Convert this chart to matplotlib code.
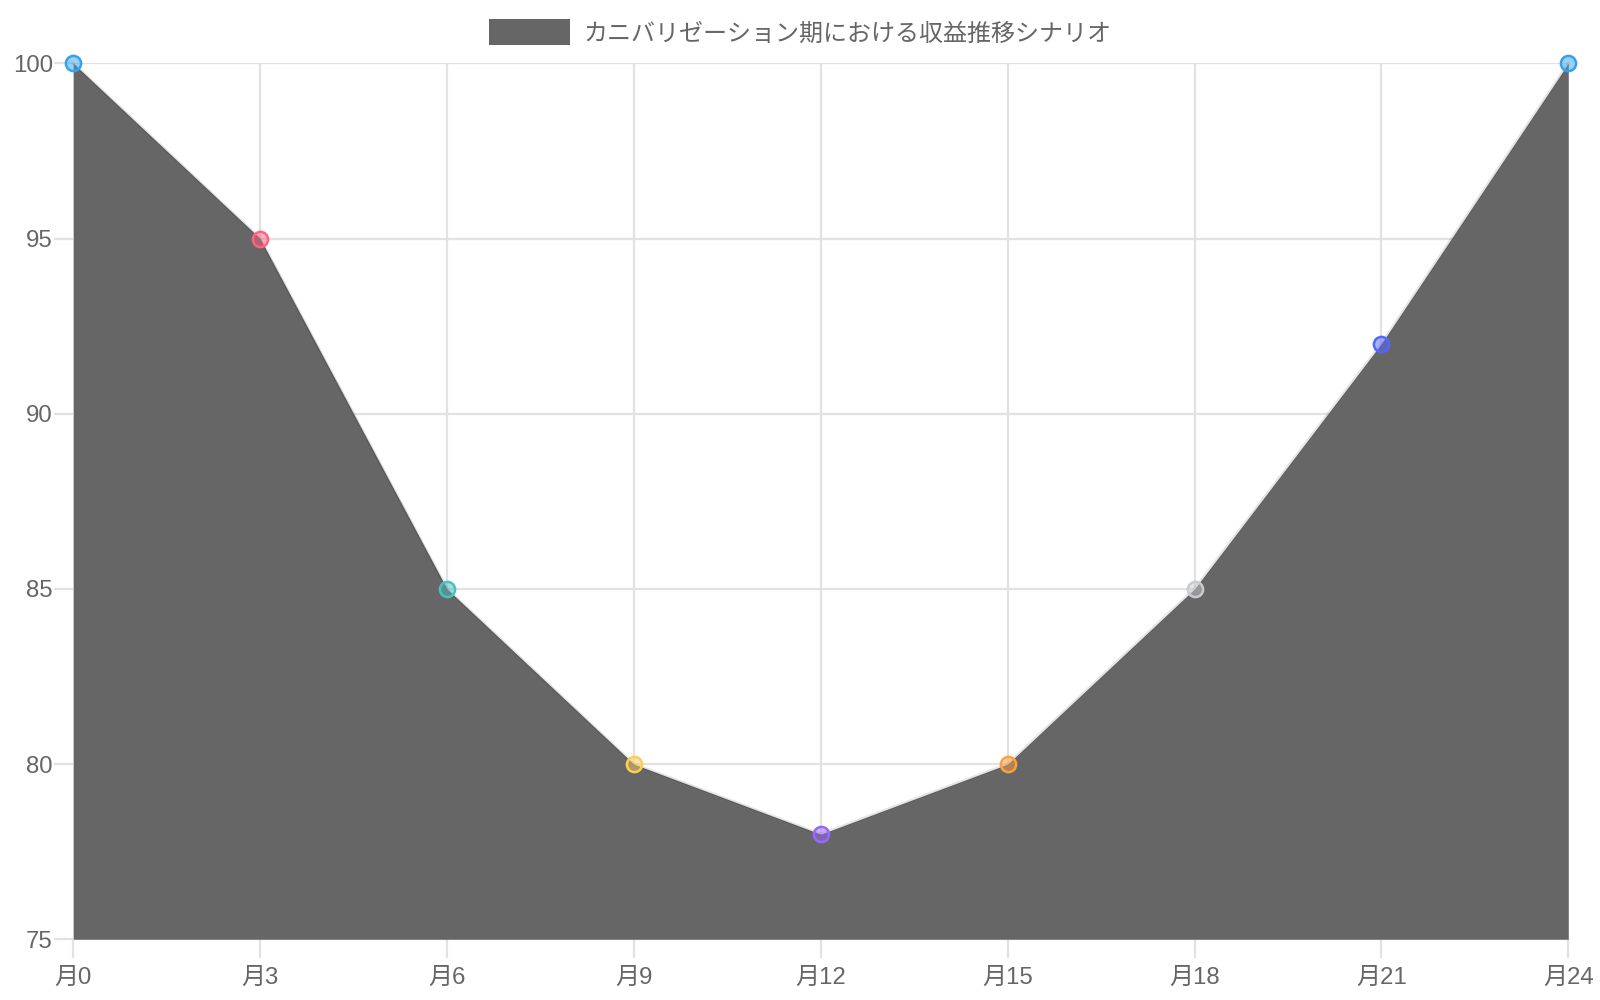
import matplotlib
matplotlib.use("Agg")
import matplotlib.pyplot as plt
from matplotlib.patches import Rectangle
from matplotlib.colors import to_rgba

months = [0, 3, 6, 9, 12, 15, 18, 21, 24]
labels = ["月0", "月3", "月6", "月9", "月12", "月15", "月18", "月21", "月24"]
values = [100, 95, 85, 80, 78, 80, 85, 92, 100]
point_colors = ["#36a2eb", "#ff6384", "#4bc0c0", "#ffcd56", "#9966ff",
                "#ff9f40", "#c9cbcf", "#5366ff", "#36a2eb"]
series_name = "カニバリゼーション期における収益推移シナリオ"
y_ticks = [75, 80, 85, 90, 95, 100]

FAM = ["Liberation Sans", "Noto Sans CJK JP", "DejaVu Sans"]
plt.rcParams['font.family'] = FAM
TXT = "#666666"
GRID = "#e2e2e2"
FS = 17.3

fig = plt.figure(figsize=(16, 10), dpi=100)
ax = fig.add_axes([73.3 / 1600, 1 - 939.3 / 1000, (1568.3 - 73.3) / 1600, (939.3 - 63.3) / 1000])

ax.set_xlim(0, 24)
ax.set_ylim(75, 100)
ax.set_xticks(months)
ax.set_xticklabels(labels)
ax.set_yticks(y_ticks)
ax.set_yticklabels([str(v) for v in y_ticks])

ax.grid(True, color=GRID, linewidth=1.6, zorder=0)
ax.set_axisbelow(True)
for s in ax.spines.values():
    s.set_visible(False)
ax.tick_params(axis='both', length=13.7, width=1.6, color=GRID, labelcolor=TXT, labelsize=FS)
ax.tick_params(axis='y', pad=1)
ax.tick_params(axis='x', pad=6)

ax.fill_between(months, values, 75, color="#666666", linewidth=0, zorder=2)
ax.plot(months, values, color=(0, 0, 0, 0.1), linewidth=2, zorder=3, clip_on=False)

for x, y, c in zip(months, values, point_colors):
    ax.scatter([x], [y], s=120, facecolor=to_rgba(c, 0.5), edgecolor=c,
               linewidth=1.8, zorder=4, clip_on=False)

# legend
fig.patches.append(Rectangle((489 / 1600, 1 - 44.5 / 1000), 81 / 1600, 25 / 1000,
                             transform=fig.transFigure, facecolor="#666666",
                             edgecolor="none", figure=fig))
fig.text(583 / 1600, 1 - 34.5 / 1000, series_name, color=TXT, fontsize=FS,
         ha='left', va='center', family=FAM)

fig.savefig("out.png", dpi=100, facecolor="white")
